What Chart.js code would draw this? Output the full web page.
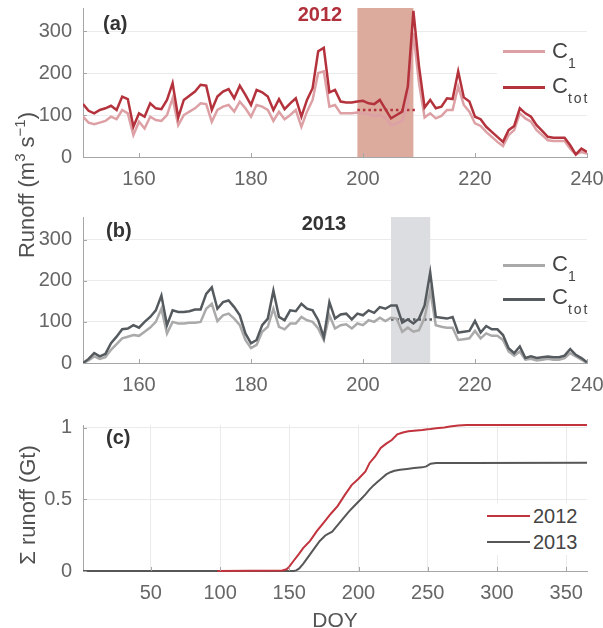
<!DOCTYPE html>
<html>
<head>
<meta charset="utf-8">
<script src="https://cdn.jsdelivr.net/npm/chart.js@4.4.0/dist/chart.umd.min.js"></script>
<style>
  body { margin: 0; width: 603px; height: 628px; position: relative; background: #fff; overflow: hidden;
         font-family: "Liberation Sans", Arial, sans-serif; }
  canvas { position: absolute; left: 0; }
  .txt { position: absolute; white-space: nowrap; line-height: 1; }
  .box { position: absolute; background: #fff; }
  .swatch { position: absolute; height: 2.5px; }
  .lg { font-size: 22px; color: #444; }
  .lg .sub { font-size: 14px; vertical-align: -9.6px; }
  .lg .tot { letter-spacing: 2px; }
  .panel { font-size: 20px; font-weight: bold; color: #333; }
  .ylab { position: absolute; white-space: nowrap; line-height: 1; font-size: 22px; color: #505050;
          transform: translate(-50%, -50%) rotate(-90deg); }
  .ylab sup { font-size: 15px; }
</style>
</head>
<body>
<canvas id="chartA" width="603" height="195" style="top:0px"></canvas>
<canvas id="chartB" width="603" height="192" style="top:209px"></canvas>
<canvas id="chartC" width="603" height="211" style="top:417px"></canvas>

<!-- panel (a) legend + labels -->
<div class="box" style="left:497px;top:36px;width:91px;height:68px"></div>
<div class="swatch" style="left:503px;top:50px;width:42px;background:#dca0a5"></div>
<div class="swatch" style="left:503px;top:86px;width:42px;background:#b4323c"></div>
<div class="txt lg" style="left:552px;top:40px">C<span class="sub">1</span></div>
<div class="txt lg" style="left:552px;top:75px">C<span class="sub tot">tot</span></div>
<div class="txt panel" style="left:103px;top:13px">(a)</div>
<div class="txt panel" style="left:320px;top:4px;transform:translateX(-50%);color:#b0303c">2012</div>

<!-- panel (b) legend + labels -->
<div class="box" style="left:497px;top:245px;width:91px;height:68px"></div>
<div class="swatch" style="left:503px;top:264px;width:42px;background:#aaaaaa"></div>
<div class="swatch" style="left:503px;top:298px;width:42px;background:#555a5e"></div>
<div class="txt lg" style="left:552px;top:253px">C<span class="sub">1</span></div>
<div class="txt lg" style="left:552px;top:286px">C<span class="sub tot">tot</span></div>
<div class="txt panel" style="left:106px;top:220px">(b)</div>
<div class="txt panel" style="left:324px;top:213px;transform:translateX(-50%)">2013</div>

<!-- panel (c) legend + labels -->
<div class="box" style="left:483px;top:503px;width:102px;height:52px"></div>
<div class="swatch" style="left:487px;top:515px;width:43px;height:2px;background:#c1333d"></div>
<div class="swatch" style="left:487px;top:541px;width:43px;height:2px;background:#575757"></div>
<div class="txt" style="left:533px;top:506px;font-size:20px;color:#444">2012</div>
<div class="txt" style="left:533px;top:532px;font-size:20px;color:#444">2013</div>
<div class="txt panel" style="left:106px;top:427px">(c)</div>

<div class="ylab" style="left:25px;top:185px">Runoff (m<sup>3</sup> s<sup>−1</sup>)</div>
<div class="ylab" style="left:28px;top:505px">Σ runoff (Gt)</div>

<script>
/** Data **/

// day of year, panels (a) and (b)
const doy = [150,151,152,153,154,155,156,157,158,159,160,161,162,163,164,165,166,167,168,169,
  170,171,172,173,174,175,176,177,178,179,180,181,182,183,184,185,186,187,188,189,
  190,191,192,193,194,195,196,197,198,199,200,201,202,203,204,205,206,207,208,209,
  210,211,212,213,214,215,216,217,218,219,220,221,222,223,224,225,226,227,228,229,
  230,231,232,233,234,235,236,237,238,239,240];

// 2012 runoff (m3/s)
const ctot2012 = [126,110,104,112,116,122,112,144,138,72,104,96,128,116,114,136,176,94,136,146,
  156,172,170,112,144,156,162,140,170,148,124,160,154,144,112,138,114,128,140,96,
  136,164,252,260,154,160,132,130,130,132,134,128,126,136,114,92,100,108,168,348,
  216,118,136,116,120,140,138,204,142,132,96,90,72,60,48,36,64,74,116,104,
  96,76,62,48,46,46,46,28,6,20,12];
const c1_2012 = [96,82,78,82,86,96,90,112,104,52,84,68,96,88,86,100,140,76,100,108,
  116,128,126,84,112,120,124,108,132,116,96,124,120,112,86,108,90,100,112,72,
  108,136,200,204,120,124,104,104,104,106,104,102,98,100,94,76,80,86,128,296,
  176,94,104,92,98,112,112,168,124,108,80,74,60,48,36,26,52,64,104,92,
  84,64,52,40,38,38,38,20,6,12,8];

// 2013 runoff (m3/s)
const ctot2013 = [0,10,24,16,22,48,64,82,84,92,86,100,112,128,164,92,128,124,124,126,
  130,130,168,184,132,148,152,136,116,72,48,56,92,108,176,112,104,128,126,144,
  132,128,104,62,148,108,118,120,106,120,116,128,122,136,132,140,140,98,106,96,
  108,140,220,112,110,108,112,74,76,78,102,74,90,82,82,68,36,24,40,12,
  16,12,14,16,14,14,18,34,20,12,2];
const c1_2013 = [0,6,16,10,14,32,46,60,64,68,66,76,86,100,132,72,100,96,96,98,
  98,100,132,144,102,116,120,108,92,56,36,44,76,88,132,88,82,96,96,112,
  104,100,84,56,116,84,92,94,84,96,92,104,100,110,102,110,108,76,86,76,
  80,110,176,92,88,86,86,56,58,60,78,60,72,66,66,56,28,18,28,8,
  10,6,8,10,8,8,12,24,16,8,0];

// shaded periods and the dotted baseline inside them
const shade2012 = [199, 209];
const shade2013 = [205, 212];
const dotDays2012 = [199, 209.5];
const dotVals2012 = [112, 112];
const dotDays2013 = [205, 212.5];
const dotVals2013 = [106, 106];

const runoffTicksX = [160, 180, 200, 220, 240];
const runoffTicksY = [0, 100, 200, 300];

// cumulative runoff (Gt), panel (c)
const cumDays2012 = [98,145,148,150,153,157,160,165,170,175,180,185,190,195,200,205,208,212,216,220,
  224,228,232,236,240,246,250,252,256,262,266,272,278,365];
const cum2012 = [0,0.003,0.012,0.03,0.07,0.12,0.16,0.21,0.28,0.34,0.40,0.455,0.53,0.60,0.645,0.695,0.755,0.80,0.86,0.89,
  0.915,0.955,0.968,0.976,0.98,0.985,0.99,0.992,0.998,1.003,1.01,1.017,1.02,1.02];
const cumDays2013 = [1,153,155,157,160,163,166,169,172,176,178,181,184,187,190,193,196,199,202,205,
  208,211,214,217,220,223,226,230,235,240,246,249,252,256,280,365];
const cum2013 = [0,0,0.004,0.016,0.05,0.09,0.13,0.17,0.21,0.248,0.26,0.275,0.31,0.345,0.38,0.415,0.445,0.475,0.505,0.535,
  0.57,0.60,0.625,0.65,0.675,0.69,0.70,0.708,0.713,0.719,0.724,0.731,0.75,0.754,0.755,0.756];

const cumTicksX = [50, 100, 150, 200, 250, 300, 350];
const cumTicksY = [0, 0.5, 1];

/** Styles **/
const axisColor = "#a6a6a6";
const gridColor = "#ebebeb";
const tickFont = { family: "Liberation Sans", size: 20 };
const tickColor = "#666";

/** Helpers **/
function pts(xs, ys) {
    return xs.map(function(x, i) { return { x: x, y: ys[i] }; });
}

function zeroPadding(scale) {
    scale.paddingLeft = 0;
    scale.paddingRight = 0;
    scale.paddingTop = 0;
    scale.paddingBottom = 0;
}

function plainLabel(value) {
    return String(value);
}

// shaded DOY window drawn behind the lines
const shadePlugin = {
    id: "shade",
    beforeDatasetsDraw(chart, args, opts) {
        if (!opts || !opts.range) return;
        const x = chart.scales.x, area = chart.chartArea, ctx = chart.ctx;
        const x0 = x.getPixelForValue(opts.range[0]);
        const x1 = x.getPixelForValue(opts.range[1]);
        ctx.save();
        ctx.fillStyle = opts.color;
        ctx.fillRect(x0, area.top, x1 - x0, area.bottom - area.top);
        ctx.restore();
    }
};

// small tick marks pointing into the axes, like the original figure
const innerTicks = {
    id: "innerTicks",
    afterDraw(chart) {
        const ctx = chart.ctx, area = chart.chartArea;
        const xs = chart.scales.x, ys = chart.scales.y;
        ctx.save();
        ctx.strokeStyle = axisColor;
        ctx.lineWidth = 1;
        ctx.beginPath();
        xs.ticks.forEach(function(t) {
            const px = Math.round(xs.getPixelForValue(t.value)) + 0.5;
            ctx.moveTo(px, area.bottom);
            ctx.lineTo(px, area.bottom - 4);
        });
        ys.ticks.forEach(function(t) {
            const py = Math.round(ys.getPixelForValue(t.value)) + 0.5;
            ctx.moveTo(area.left, py);
            ctx.lineTo(area.left + 4, py);
        });
        ctx.stroke();
        ctx.restore();
    }
};

function baseOptions(xAxis, yAxis, plugins) {
    return {
        responsive: false,
        animation: false,
        devicePixelRatio: 1,
        layout: { autoPadding: false, padding: { top: 8, right: 16, left: 0, bottom: 0 } },
        elements: { point: { radius: 0 }, line: { tension: 0 } },
        plugins: Object.assign({ legend: { display: false }, tooltip: { enabled: false } }, plugins || {}),
        scales: { x: xAxis, y: yAxis }
    };
}

function runoffChart(canvasId, ctot, c1, colors, shade, dotDays, dotVals) {
    const xAxis = {
        type: "linear", min: 150, max: 240,
        afterBuildTicks: function(s) { s.ticks = runoffTicksX.map(function(v) { return { value: v }; }); },
        afterFit: function(s) { s.height = 38; zeroPadding(s); },
        grid: { display: false, drawTicks: false },
        border: { color: axisColor },
        ticks: { font: tickFont, color: tickColor, padding: 10, maxRotation: 0, callback: plainLabel }
    };
    const yAxis = {
        type: "linear", min: 0, max: 355,
        afterBuildTicks: function(s) { s.ticks = runoffTicksY.map(function(v) { return { value: v }; }); },
        afterFit: function(s) { s.width = 83; zeroPadding(s); },
        grid: { color: gridColor, drawTicks: false },
        border: { color: axisColor },
        ticks: { font: tickFont, color: tickColor, padding: 11, callback: plainLabel }
    };
    new Chart(document.getElementById(canvasId), {
        type: "line",
        data: {
            datasets: [
                { data: pts(doy, ctot), borderColor: colors.tot, borderWidth: 2.5 },
                { data: pts(doy, c1), borderColor: colors.c1, borderWidth: 2.5 },
                { data: pts(dotDays, dotVals), borderColor: colors.tot, borderWidth: 2.5, borderDash: [2.5, 3] }
            ]
        },
        options: baseOptions(xAxis, yAxis, { shade: { range: shade, color: colors.shade } }),
        plugins: [shadePlugin, innerTicks]
    });
}

/** Panels **/
runoffChart("chartA", ctot2012, c1_2012,
    { tot: "#b4323c", c1: "#dca0a5", shade: "#dcab9d" }, shade2012, dotDays2012, dotVals2012);
runoffChart("chartB", ctot2013, c1_2013,
    { tot: "#555a5e", c1: "#aaaaaa", shade: "#dcdde0" }, shade2013, dotDays2013, dotVals2013);

new Chart(document.getElementById("chartC"), {
    type: "line",
    data: {
        datasets: [
            { data: pts(cumDays2012, cum2012), borderColor: "#c1333d", borderWidth: 2, clip: 4 },
            { data: pts(cumDays2013, cum2013), borderColor: "#575757", borderWidth: 2, clip: 4 }
        ]
    },
    options: baseOptions({
        type: "linear", min: 1, max: 365,
        afterBuildTicks: function(s) { s.ticks = cumTicksX.map(function(v) { return { value: v }; }); },
        afterFit: function(s) { s.height = 57; zeroPadding(s); },
        grid: { color: gridColor, drawTicks: false },
        border: { color: axisColor },
        ticks: { font: tickFont, color: tickColor, padding: 10, maxRotation: 0, callback: plainLabel },
        title: { display: true, text: "DOY", color: "#555", font: { family: "Liberation Sans", size: 21, lineHeight: 1 },
                 padding: { top: 0, bottom: -4 } }
    }, {
        type: "linear", min: 0, max: 1.02,
        afterBuildTicks: function(s) { s.ticks = cumTicksY.map(function(v) { return { value: v }; }); },
        afterFit: function(s) { s.width = 83; zeroPadding(s); },
        grid: { color: gridColor, drawTicks: false },
        border: { color: axisColor },
        ticks: { font: tickFont, color: tickColor, padding: 11, callback: plainLabel }
    }),
    plugins: [innerTicks]
});
</script>
</body>
</html>
